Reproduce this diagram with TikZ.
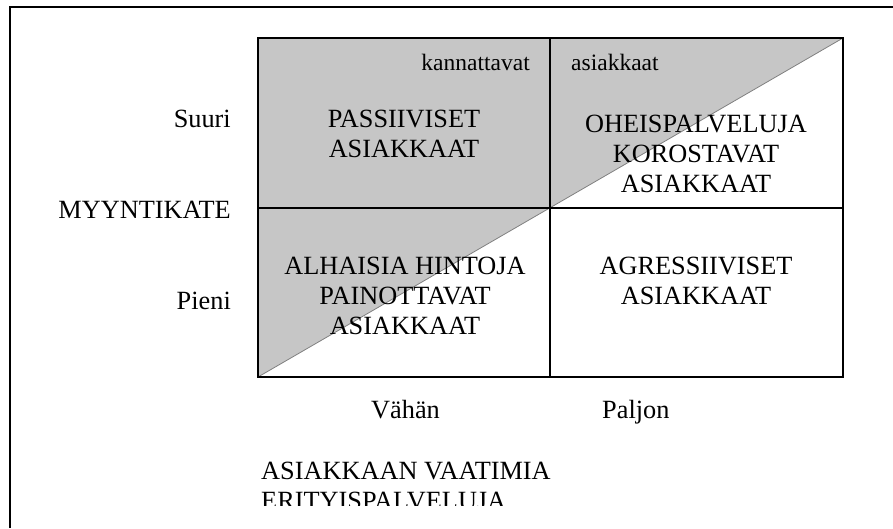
\documentclass[tikz,border=0pt]{standalone}
\usepackage{fontspec}
\setmainfont{Liberation Serif}
\usepackage{tikz}
\definecolor{cellgray}{RGB}{198,198,198}
\definecolor{diaggray}{RGB}{128,128,128}

\begin{document}
\begin{tikzpicture}[
		x=1pt, y=-1pt,
		txt/.style={inner sep=0pt, font=\fontsize{26.3}{30}\selectfont},
		small/.style={inner sep=0pt, font=\fontsize{23.5}{27}\selectfont},
		cell/.style={txt, align=center},
		gridline/.style={line width=2pt},
		frame/.style={line width=1.5pt}]
	\useasboundingbox (0,0) rectangle (893,528);
	%% define corners
	\coordinate (tl) at (258,38);
	\coordinate (tm) at (550,38);
	\coordinate (tr) at (843,38);
	\coordinate (ml) at (258,208);
	\coordinate (mr) at (843,208);
	\coordinate (bl) at (258,377);
	\coordinate (bm) at (550,377);
	\coordinate (br) at (843,377);
	%% shaded half
	\fill[cellgray] (tl) -- (tr) -- (bl) -- cycle;
	\draw[diaggray, thick] (bl) -- (tr);
	%% define grid
	\draw[gridline] (tl) rectangle (br);
	\draw[gridline] (tm) -- (bm);
	\draw[gridline] (ml) -- (mr);
	%% outer frame
	\coordinate (f1) at (10,528);
	\coordinate (f2) at (10,7);
	\coordinate (f3) at (893,7);
	\draw[frame] (f1) -- (f2) -- (f3);
	%% define texts
	\node (kann) at (530,70) [small, anchor=base east] {kannattavat};
	\node (asiak) at (571,70) [small, anchor=base west] {asiakkaat};
	\node (passiiviset) at (404,133.5) [cell] {PASSIIVISET\\ASIAKKAAT};
	\node (oheis) at (696,153.5) [cell] {OHEISPALVELUJA\\KOROSTAVAT\\ASIAKKAAT};
	\node (alhaisia) at (405,296) [cell] {ALHAISIA HINTOJA\\PAINOTTAVAT\\ASIAKKAAT};
	\node (agress) at (696,281) [cell] {AGRESSIIVISET\\ASIAKKAAT};
	\node (suuri) at (231,127) [txt, anchor=base east] {Suuri};
	\node (myynti) at (231,218) [txt, anchor=base east] {MYYNTIKATE};
	\node (pieni) at (231,309) [txt, anchor=base east] {Pieni};
	\node (vahan) at (405.5,418) [txt, anchor=base] {Vähän};
	\node (paljon) at (602,418) [txt, anchor=base west] {Paljon};
	\begin{scope}
		\clip (0,0) rectangle (893,505.5);
		\node (vaatimia) at (261,462) [txt, align=left, anchor=north west] {ASIAKKAAN VAATIMIA\\ERITYISPALVELUJA};
	\end{scope}
\end{tikzpicture}
\end{document}
